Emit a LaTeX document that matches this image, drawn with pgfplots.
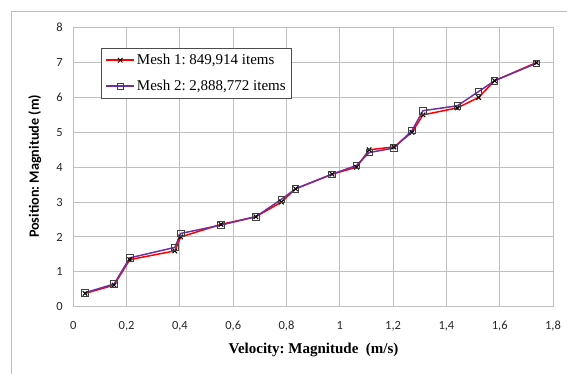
\documentclass[border=0pt]{standalone}
\usepackage{fontspec}
\setmainfont{Liberation Serif}
\newfontfamily\calibri{Carlito}
\usepackage{pgfplots}
\pgfplotsset{compat=1.18}
\definecolor{gridgray}{HTML}{BFBFBF}
\definecolor{meshpurple}{HTML}{7030A0}
\frenchspacing
\begin{document}
\begin{tikzpicture}
\useasboundingbox (0pt,0pt) rectangle (567pt,374pt);
\draw[gridgray, line width=1pt] (11pt,0pt) -- (11pt,362pt) -- (567pt,362pt);
\begin{axis}[
  at={(73.3pt,67.3pt)}, anchor=south west,
  scale only axis, width=479.7pt, height=279pt,
  xmin=0, xmax=1.8, ymin=0, ymax=8,
  xtick={0,0.2,0.4,0.6,0.8,1,1.2,1.4,1.6,1.8},
  ytick={0,1,2,3,4,5,6,7,8},
  /pgf/number format/use comma,
  /pgf/number format/assume math mode=true,
  major tick length=0pt,
  grid=major,
  grid style={gridgray, line width=1pt},
  axis line style={gridgray, line width=1pt},
  tick label style={font=\calibri\fontsize{12.5}{14}\selectfont, text=black!85},
  xticklabel style={yshift=-11pt},
  yticklabel style={xshift=-7pt},
  xlabel={\bfseries Velocity: Magnitude~~(m/s)},
  ylabel={\calibri\bfseries Position: Magnitude (m)},
  xlabel style={font=\fontsize{15}{18}\selectfont, at={(axis description cs:0.5007,-0.155)}, anchor=center},
  ylabel style={font=\fontsize{14.2}{17}\selectfont, at={(axis description cs:-0.08,0.5025)}, anchor=center},
  legend style={at={(axis description cs:0.0577,0.928)}, anchor=north west,
    draw=black!70, line width=1pt, font=\fontsize{15}{18}\selectfont,
    inner sep=4pt, row sep=10pt, cells={anchor=west}},
  legend image code/.code={\draw[mark repeat=2,mark phase=2] plot coordinates {(0pt,0pt) (14pt,0pt) (28pt,0pt)};},
]
\addplot[red, line width=1.5pt, mark=x, mark size=3.2pt, mark options={black, line width=1pt}] coordinates {
(0.044,0.38) (0.153,0.62) (0.212,1.35) (0.381,1.60) (0.403,2.00) (0.554,2.36)
(0.685,2.58) (0.781,3.00) (0.834,3.38) (0.971,3.80) (1.063,4.00) (1.110,4.50)
(1.203,4.58) (1.271,5.00) (1.312,5.50) (1.441,5.70) (1.521,6.00) (1.581,6.48) (1.738,7.00)
};
\addlegendentry{Mesh 1: 849,914 items}
\addplot[meshpurple, line width=1.5pt, mark=square, mark size=3.2pt, mark options={black!75, line width=0.8pt}] coordinates {
(0.044,0.40) (0.153,0.65) (0.212,1.40) (0.381,1.70) (0.403,2.10) (0.554,2.34)
(0.685,2.58) (0.781,3.08) (0.834,3.38) (0.971,3.80) (1.063,4.05) (1.110,4.42)
(1.203,4.55) (1.271,5.05) (1.312,5.62) (1.441,5.76) (1.521,6.17) (1.581,6.48) (1.738,6.98)
};
\addlegendentry{Mesh 2: 2,888,772 items}
\end{axis}
\end{tikzpicture}
\end{document}
